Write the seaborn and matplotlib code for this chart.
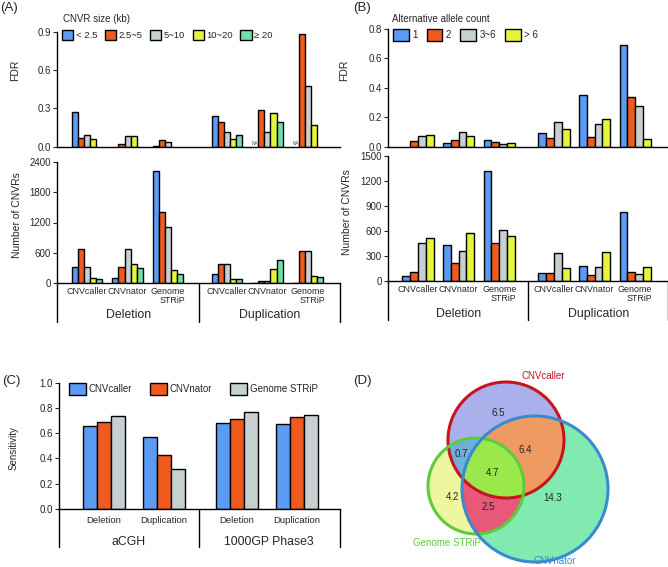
import numpy as np
import pandas as pd
import seaborn as sns
import matplotlib.pyplot as plt
from matplotlib.patches import Patch, Circle
from matplotlib.colors import ListedColormap

sns.set_style("ticks")
plt.rcParams['font.family'] = ['Liberation Sans', 'DejaVu Sans']

# ---------------- data ----------------
callers = ["CNVcaller", "CNVnator", "Genome\nSTRiP"]
sv_types = ["Deletion", "Duplication"]

# panel A: by CNVR size (groups: Del x3 callers, Dup x3 callers)
size_classes = ["< 2.5", "2.5~5", "5~10", "10~20", "≥ 20"]
size_colors = ["#5b9bf3", "#f05a1e", "#c6d0d0", "#e4f53c", "#70e0a8"]
fdr_size = {
    "< 2.5": [0.274, None, 0.004, 0.237, None, None],
    "2.5~5": [0.068, 0.024, 0.050, 0.190, 0.290, 0.884],
    "5~10":  [0.092, 0.087, 0.037, 0.118, 0.118, 0.474],
    "10~20": [0.060, 0.084, None, 0.060, 0.268, 0.171],
    "≥ 20":  [None, None, None, 0.092, 0.192, None],
}
fdr_size_na = [4, 5]  # groups where "< 2.5" FDR is NA
count_size = {
    "< 2.5": [315, 99, 2208, 190, 0, 0],
    "2.5~5": [683, 315, 1413, 388, 53, 631],
    "5~10":  [329, 670, 1104, 388, 53, 631],
    "10~20": [99, 381, 263, 79, 289, 138],
    "≥ 20":  [79, 309, 177, 79, 460, 125],
}

# panel B: by alternative allele count
allele_classes = ["1", "2", "3~6", "> 6"]
allele_colors = ["#5b9bf3", "#f05a1e", "#c6d0d0", "#e4f53c"]
fdr_allele = {
    "1":   [None, 0.025, 0.045, 0.091, 0.352, 0.693],
    "2":   [0.041, 0.043, 0.032, 0.061, 0.064, 0.341],
    "3~6": [0.073, 0.100, 0.020, 0.166, 0.152, 0.277],
    "> 6": [0.082, 0.075, 0.023, 0.120, 0.186, 0.052],
}
count_allele = {
    "1":   [64, 434, 1317, 99, 187, 823],
    "2":   [115, 219, 454, 99, 76, 111],
    "3~6": [462, 366, 613, 342, 175, 91],
    "> 6": [517, 573, 541, 155, 350, 167],
}

# panel C: sensitivity
methods = ["CNVcaller", "CNVnator", "Genome STRiP"]
method_colors = ["#5b9bf3", "#f05a1e", "#c6d0d0"]
val_sets = ["aCGH", "1000GP Phase3"]
sens_groups = ["Deletion", "Duplication", "Deletion", "Duplication"]
sensitivity = {
    "CNVcaller":    [0.660, 0.570, 0.678, 0.675],
    "CNVnator":     [0.686, 0.427, 0.712, 0.731],
    "Genome STRiP": [0.739, 0.314, 0.770, 0.741],
}

# panel D: venn region values
venn_labels = ["6.5", "6.4", "0.7", "4.7", "4.2", "2.5", "14.3"]

# ---------------- layout helpers ----------------
W, H = 668, 567
fig = plt.figure(figsize=(W / 100, H / 100), dpi=100)


def px_axes(left, top, right, bottom):
    return fig.add_axes([left / W, 1 - bottom / H, (right - left) / W, (bottom - top) / H])


def long_df(d, classes, pos):
    rows = []
    for c in classes:
        for p, v in zip(pos, d[c]):
            if v is not None:
                rows.append({"pos": p, "cls": c, "val": v})
    return pd.DataFrame(rows)


def style_ax(ax, ylim, yticks, fmt):
    ax.set_ylim(*ylim)
    ax.set_yticks(yticks)
    ax.set_yticklabels([fmt.format(t) for t in yticks], fontsize=7)
    ax.tick_params(axis="y", length=3, width=0.8, pad=1.5)
    ax.tick_params(axis="x", length=0)
    for s in ["top", "right"]:
        ax.spines[s].set_visible(False)
    for s in ["left", "bottom"]:
        ax.spines[s].set_linewidth(1.0)
        ax.spines[s].set_color("black")
    ax.set_xlabel("")


def bars(ax, df, classes, colors, width):
    sns.barplot(data=df, x="pos", y="val", hue="cls", hue_order=classes,
                palette=colors, saturation=1, native_scale=True, width=width,
                errorbar=None, edgecolor="black", linewidth=1.0, legend=False, ax=ax)


def table(ax, xl, xr, xmid, depth, names, ylab):
    tr = ax.get_xaxis_transform()
    for x in (xl, xmid, xr):
        ax.plot([x, x], [0, -depth], color="black", lw=1.0, transform=tr, clip_on=False)
    ax.text((xl + xmid) / 2, ylab, names[0], transform=tr, ha="center", va="center", fontsize=8.8)
    ax.text((xmid + xr) / 2, ylab, names[1], transform=tr, ha="center", va="center", fontsize=8.8)


def caller_ticks(ax, pos):
    ax.set_xticks(pos)
    ax.set_xticklabels(callers * 2, fontsize=6.4, linespacing=1.0)
    for lab in ax.get_xticklabels():
        lab.set_multialignment("right")
    ax.tick_params(axis="x", pad=3)


# ---------------- panel A ----------------
pos_a = [0, 1, 2, 3.45, 4.45, 5.45]
xlim_a = (-0.74, 6.24)

ax = px_axes(57, 32, 340, 146.7)
bars(ax, long_df(fdr_size, size_classes, pos_a), size_classes, size_colors, 0.75)
style_ax(ax, (0, 0.9), [0, 0.3, 0.6, 0.9], "{:.1f}")
ax.set_xlim(*xlim_a)
ax.set_xticks([])
ax.set_ylabel("FDR", fontsize=7.5)
ax.yaxis.set_label_coords(-0.13, 0.67)
for g in fdr_size_na:
    ax.text(pos_a[g] - 0.3, 0.005, "NA", fontsize=3.5, color="#555555", ha="center", va="bottom")
handles = [Patch(facecolor=c, edgecolor="black", linewidth=1.0) for c in size_colors]
fig.legend(handles, size_classes, loc="upper left", bbox_to_anchor=(62 / W, 1 - 30 / H),
           ncol=5, frameon=False, fontsize=6.8, handlelength=1.2, handleheight=1.2,
           handletextpad=0.25, columnspacing=0.8, borderpad=0, borderaxespad=0)
fig.text(63 / W, 1 - 19 / H, "CNVR size (kb)", fontsize=7, ha="left", va="center")

ax = px_axes(57, 161.7, 340, 283.3)
bars(ax, long_df(count_size, size_classes, pos_a), size_classes, size_colors, 0.75)
style_ax(ax, (0, 2400), [0, 600, 1200, 1800, 2400], "{:d}")
ax.set_xlim(*xlim_a)
caller_ticks(ax, pos_a)
ax.set_ylabel("Number of CNVRs", fontsize=7.5)
ax.yaxis.set_label_coords(-0.125, 0.56)
table(ax, xlim_a[0], xlim_a[1], 2.77, 0.32, sv_types, -0.26)

# ---------------- panel B ----------------
pos_b = [0, 1, 2, 3.35, 4.35, 5.35]
xlim_b = (-0.74, 6.16)

ax = px_axes(388, 29, 668, 146.7)
bars(ax, long_df(fdr_allele, allele_classes, pos_b), allele_classes, allele_colors, 0.77)
style_ax(ax, (0, 0.8), [0, 0.2, 0.4, 0.6, 0.8], "{:.1f}")
ax.set_xlim(*xlim_b)
ax.set_xticks([])
ax.set_ylabel("FDR", fontsize=7.5)
ax.yaxis.set_label_coords(-0.14, 0.65)
handles = [Patch(facecolor=c, edgecolor="black", linewidth=1.0) for c in allele_colors]
fig.legend(handles, allele_classes, loc="upper left", bbox_to_anchor=(393 / W, 1 - 29 / H),
           ncol=4, frameon=False, fontsize=7, handlelength=1.6, handleheight=1.6,
           handletextpad=0.4, columnspacing=0.9, borderpad=0, borderaxespad=0)
fig.text(392 / W, 1 - 19 / H, "Alternative allele count", fontsize=7, ha="left", va="center")

ax = px_axes(388, 155.7, 668, 281.3)
bars(ax, long_df(count_allele, allele_classes, pos_b), allele_classes, allele_colors, 0.77)
style_ax(ax, (0, 1500), [0, 300, 600, 900, 1200, 1500], "{:d}")
ax.set_xlim(*xlim_b)
caller_ticks(ax, pos_b)
ax.set_ylabel("Number of CNVRs", fontsize=7.5)
ax.yaxis.set_label_coords(-0.13, 0.55)
table(ax, xlim_b[0], xlim_b[1], 2.72, 0.31, sv_types, -0.26)

# ---------------- panel C ----------------
pos_c = [0, 1, 2.2, 3.2]
xlim_c = (-0.74, 3.91)

ax = px_axes(59, 382.7, 340, 509)
bars(ax, long_df(sensitivity, methods, pos_c), methods, method_colors, 0.7)
style_ax(ax, (0, 1.0), [0, 0.2, 0.4, 0.6, 0.8, 1.0], "{:.1f}")
ax.set_xlim(*xlim_c)
ax.set_xticks(pos_c)
ax.set_xticklabels(sens_groups, fontsize=6.8)
ax.tick_params(axis="x", pad=5)
ax.set_ylabel("Sensitivity", fontsize=7)
ax.yaxis.set_label_coords(-0.145, 0.48)
table(ax, xlim_c[0], xlim_c[1], 1.57, 0.30, val_sets, -0.26)
handles = [Patch(facecolor=c, edgecolor="black", linewidth=1.0) for c in method_colors]
ax.legend(handles, methods, loc="upper left", bbox_to_anchor=(69 / W, 1 - 383 / H),
          bbox_transform=fig.transFigure, ncol=3, frameon=False, fontsize=7,
          handlelength=1.75, handleheight=1.45, handletextpad=0.3, columnspacing=1.8,
          borderpad=0, borderaxespad=0)

# ---------------- panel D (venn) ----------------
axd = fig.add_axes([420 / W, 0, (W - 420) / W, 200 / H])
axd.set_xlim(420, W)
axd.set_ylim(H, H - 200)
axd.axis("off")
c_caller = (506, 440, 58)
c_nator = (535, 489, 73)
c_gs = (476, 486, 48)
xx, yy = np.meshgrid(np.arange(420, W, 0.5), np.arange(H - 200, H, 0.5))


def inside(c):
    return (xx - c[0]) ** 2 + (yy - c[1]) ** 2 <= c[2] ** 2


code = inside(c_caller) * 1 + inside(c_nator) * 2 + inside(c_gs) * 4
region_colors = ["#ffffff", "#a9b0ec", "#80eab0", "#ee9a60",
                 "#eef7a0", "#70b0d8", "#e85878", "#9be84a"]
axd.imshow(code, cmap=ListedColormap(region_colors), vmin=-0.5, vmax=7.5,
           extent=(420, W, H, H - 200), interpolation="nearest", zorder=0)
for c, col in [(c_caller, "#c8141e"), (c_gs, "#5ccc3c"), (c_nator, "#3a8ad0")]:
    axd.add_patch(Circle((c[0], c[1]), c[2], fill=False, edgecolor=col, lw=2.2, zorder=2))
venn_xy = [(498, 413), (525, 450), (461, 454), (493, 473), (452, 497), (488, 507), (553, 498)]
for (x, y), t in zip(venn_xy, venn_labels):
    axd.text(x, y, t, fontsize=7, ha="center", va="center", zorder=3)
axd.text(543, 376, "CNVcaller", color="#c8141e", fontsize=7, ha="center", va="center")
axd.text(447, 543, "Genome STRiP", color="#5ccc3c", fontsize=7, ha="center", va="center")
axd.text(555, 561, "CNVnator", color="#3a8ad0", fontsize=7, ha="center", va="center")

# panel letters
for x, y, t in [(0, 8, "(A)"), (353, 8, "(B)"), (2, 381, "(C)"), (353, 381, "(D)")]:
    fig.text(x / W, 1 - y / H, t, fontsize=9.5, ha="left", va="center")

fig.savefig("out.png", dpi=100)
